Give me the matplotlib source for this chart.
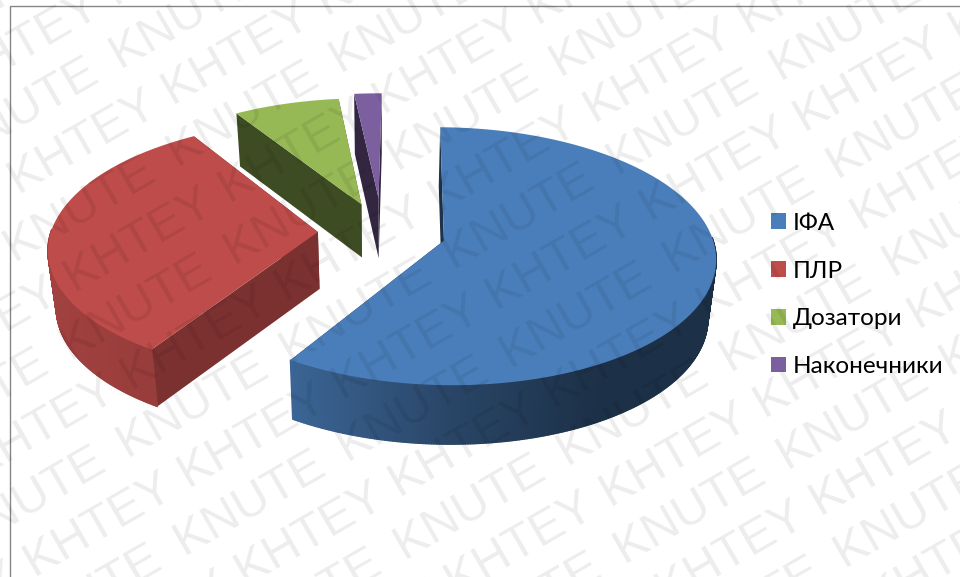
import numpy as np
import matplotlib
matplotlib.use("Agg")
import matplotlib.pyplot as plt
from matplotlib.collections import PolyCollection
from matplotlib.colors import to_rgb
from matplotlib.patches import Patch, Polygon, Rectangle

labels = ["ІФА", "ПЛР", "Дозатори", "Наконечники"]
values = [58.8, 32.0, 7.3, 1.9]
colors = ["#4A7EBA", "#BD4C4A", "#97B955", "#7C5F9F"]

# 3d pie settings
start_angle = 0.7
explode = [0.24, 0.24, 0.24, 0.28]
thickness = [59, 57, 53, 60]
radial_shade = [0.40, 0.65, 0.41, 0.40]
cx, cy = 382, 232
rx, ry = 267, 125
persp = 0.12
base_shrink = 0.975

# side wall brightness against sin(angle)
shade_s = [-1.0, -0.53, 0.0, 0.5, 1.0]
shade_f = [0.86, 0.80, 0.55, 0.38, 0.38]

# repeated stamp lines: word, offset along the line, spacing along the line
mark_words = [("KNUTE", 70, 188.5), ("KHTEY", 97, 178)]
mark_angle = 30
mark_size = 35.3
mark_gap = 56.7
mark_first = 119


def project(u, v, drop=0.0):
    w = 1 + persp * v
    scale = base_shrink if drop else 1.0
    return np.column_stack([cx + scale * rx * u / w, cy - ry * v / w + drop])


def shaded(color, f):
    return tuple(c * f for c in to_rgb(color))


def draw_slice(ax, a0, a1, color, pull, depth, radial):
    mid = np.radians((a0 + a1) / 2)
    u0, v0 = pull * np.sin(mid), pull * np.cos(mid)
    ang = np.radians(np.linspace(a0, a1, max(int(a1 - a0) * 2, 8)))
    us = u0 + np.sin(ang)
    vs = v0 + np.cos(ang)
    top = project(us, vs)
    bot = project(us, vs, depth)
    apex = project(np.array([u0]), np.array([v0]))
    apex_low = project(np.array([u0]), np.array([v0]), depth)

    # the two cut faces, then the curved wall, then the lid
    for i in (-1, 0):
        quad = np.vstack([apex, top[i], bot[i], apex_low])
        ax.add_patch(Polygon(quad, closed=True, fc=shaded(color, radial), ec="none", zorder=2))

    # only the part of the wall turned towards the viewer
    mids = (ang[:-1] + ang[1:]) / 2
    front = np.where(np.cos(mids) < 0.02)[0]
    if len(front):
        strips = [np.vstack([top[i], top[i + 1], bot[i + 1], bot[i]]) for i in front]
        fc = [shaded(color, np.interp(np.sin(mids[i]), shade_s, shade_f)) for i in front]
        ax.add_collection(PolyCollection(strips, facecolors=fc, edgecolors="face", linewidths=1.0, zorder=3))

    ax.add_patch(Polygon(np.vstack([apex, top]), closed=True, fc=color, ec="none", zorder=4))


def draw_watermark(ax):
    t = np.radians(mark_angle)
    for k in range(-2, 16):
        word, q0, period = mark_words[k % 2]
        p = mark_first + mark_gap * k
        for j in range(-8, 10):
            q = q0 + j * period
            x = p * np.sin(t) + q * np.cos(t)
            y = p * np.cos(t) - q * np.sin(t)
            if -200 < x < 1000 and -50 < y < 750:
                ax.text(x, y, word, rotation=mark_angle, rotation_mode="anchor", ha="left", va="baseline",
                        fontsize=mark_size, family="Liberation Sans", color="black", alpha=0.075, zorder=10)


fig = plt.figure(figsize=(9.6, 5.77), dpi=100)
ax = fig.add_axes([0, 0, 1, 1])
ax.set_xlim(0, 960)
ax.set_ylim(577, 0)
ax.axis("off")

# chart frame, right and bottom sides run off the canvas
ax.add_patch(Rectangle((9.5, 6), 1000, 600, fc="white", ec="#868686", lw=1.0, zorder=1))

shares = np.array(values) / sum(values) * 360
edges = start_angle + np.concatenate([[0], np.cumsum(shares)])
for i in [3, 2, 1, 0]:
    draw_slice(ax, edges[i], edges[i + 1], colors[i], explode[i], thickness[i], radial_shade[i])

handles = [Patch(fc=c, ec="none") for c in colors]
leg = ax.legend(handles, labels, loc="center left", bbox_to_anchor=(749, 295), bbox_transform=ax.transData,
                frameon=False, prop={"family": ["Lato", "Open Sans"], "size": 17.5}, handlelength=0.617,
                handleheight=0.617, handletextpad=0.285, labelspacing=1.1)
leg.set_zorder(5)

draw_watermark(ax)

fig.savefig("out.png", dpi=100)
